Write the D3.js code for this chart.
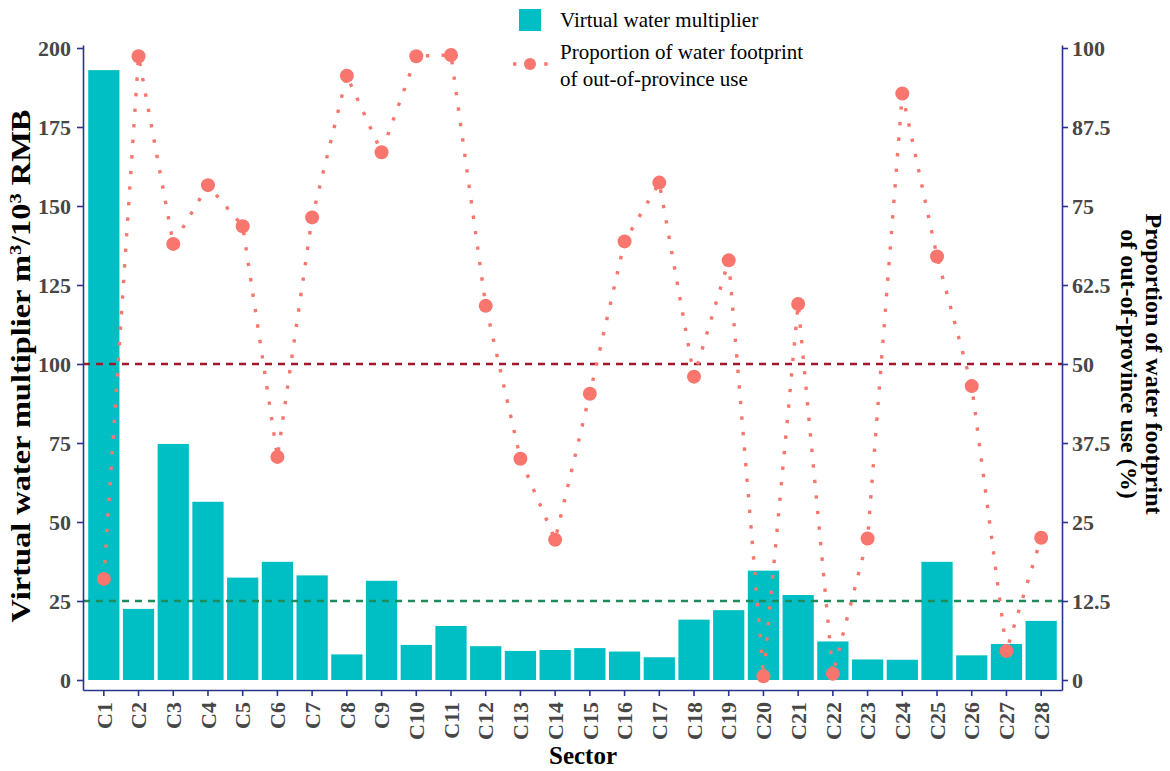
<!DOCTYPE html>
<html>
<head>
<meta charset="utf-8">
<script src="https://cdn.jsdelivr.net/npm/d3@7"></script>
<style>
  html, body { margin: 0; padding: 0; background: #ffffff; }
  svg { display: block; font-family: "Liberation Serif", "Times New Roman", serif; }
</style>
</head>
<body>
<svg id="chart" width="1170" height="771"></svg>
<script>
// Sectors C1..C28
const sectors = ["C1","C2","C3","C4","C5","C6","C7","C8","C9","C10","C11","C12","C13","C14",
                 "C15","C16","C17","C18","C19","C20","C21","C22","C23","C24","C25","C26","C27","C28"];

// Virtual water multiplier (m3 / 10^3 RMB)
const multiplier = [193, 22.5, 74.7, 56.4, 32.4, 37.4, 33.1, 8.1, 31.4, 11.1, 17.1, 10.7, 9.2, 9.5,
                    10.1, 9.0, 7.2, 19.1, 22.1, 34.6, 26.9, 12.2, 6.5, 6.4, 37.4, 7.8, 11.4, 18.7];

// Proportion of water footprint of out-of-province use (%)
const outShare = [16.0, 98.7, 69.0, 78.3, 71.8, 35.3, 73.2, 95.6, 83.5, 98.7, 98.9, 59.2, 35.0, 22.2,
                  45.3, 69.4, 78.7, 48.0, 66.4, 0.6, 59.5, 1.0, 22.4, 92.8, 67.0, 46.5, 4.6, 22.5];

// Axis ticks
const leftTicks = [0, 25, 50, 75, 100, 125, 150, 175, 200];
const rightTicks = [0, 12.5, 25, 37.5, 50, 62.5, 75, 87.5, 100];
const rightTickLabels = ["0", "12.5", "25", "37.5", "50", "62.5", "75", "87.5", "100"];

// Reference levels (left-axis units)
const refHigh = 100;
const refLow = 25;

const barColor = "#00BFC4";
const pointColor = "#F8766D";
const axisColor = "#2a3290";
const tickTextColor = "#474747";

const svg = d3.select("#chart");

const plotLeft = 83, plotRight = 1062, plotTop = 45, plotBottom = 690;

const x = d3.scaleBand()
  .domain(sectors)
  .range([plotLeft, plotRight])
  .paddingInner(0.1)
  .paddingOuter(0.15);

// Left scale: 0 -> 680, 200 -> 48, extended to the axis line ends
const yL = d3.scaleLinear().domain([-3.1646, 200.949]).range([plotBottom, plotTop]);
const yR = d3.scaleLinear().domain([-1.5823, 100.4747]).range([plotBottom, plotTop]);

// Bars
svg.append("g").selectAll("rect")
  .data(sectors)
  .join("rect")
  .attr("x", d => x(d))
  .attr("width", x.bandwidth())
  .attr("y", (d, i) => yL(multiplier[i]))
  .attr("height", (d, i) => yL(0) - yL(multiplier[i]))
  .attr("fill", barColor);

// Reference dashed lines
svg.append("line")
  .attr("x1", plotLeft).attr("x2", plotRight)
  .attr("y1", yL(refHigh)).attr("y2", yL(refHigh))
  .attr("stroke", "#a3162b").attr("stroke-width", 2.4)
  .attr("stroke-dasharray", "7,6");

svg.append("line")
  .attr("x1", plotLeft).attr("x2", plotRight)
  .attr("y1", yL(refLow)).attr("y2", yL(refLow))
  .attr("stroke", "#1f8a5c").attr("stroke-width", 2.4)
  .attr("stroke-dasharray", "7,6");

// Dotted proportion line
const cx = d => x(d) + x.bandwidth() / 2;
const line = d3.line()
  .x((d, i) => cx(sectors[i]))
  .y(d => yR(d));

svg.append("path")
  .datum(outShare)
  .attr("d", line)
  .attr("fill", "none")
  .attr("stroke", pointColor)
  .attr("stroke-width", 3.4)
  .attr("stroke-dasharray", "3.4,12.2");

svg.append("g").selectAll("circle")
  .data(outShare)
  .join("circle")
  .attr("cx", (d, i) => cx(sectors[i]))
  .attr("cy", d => yR(d))
  .attr("r", 7)
  .attr("fill", pointColor);

// Axes
function styleAxis(g) {
  g.select(".domain").attr("stroke", axisColor).attr("stroke-width", 1.6);
  g.selectAll(".tick line").attr("stroke", axisColor).attr("stroke-width", 1.6);
  g.selectAll(".tick text")
    .attr("fill", tickTextColor)
    .style("font-size", "22px")
    .style("font-weight", "bold")
    .style("font-family", "'Liberation Serif', serif");
}

svg.append("g")
  .attr("transform", `translate(${plotLeft},0)`)
  .call(d3.axisLeft(yL).tickValues(leftTicks).tickFormat(d3.format("d")).tickSize(6).tickSizeOuter(0).tickPadding(6))
  .call(styleAxis);

svg.append("g")
  .attr("transform", `translate(${plotRight},0)`)
  .call(d3.axisRight(yR).tickValues(rightTicks).tickFormat((d, i) => rightTickLabels[i]).tickSize(6).tickSizeOuter(0).tickPadding(4))
  .call(styleAxis);

const gBottom = svg.append("g")
  .attr("transform", `translate(0,${plotBottom})`)
  .call(d3.axisBottom(x).tickSize(6).tickSizeOuter(0))
  .call(styleAxis);

gBottom.selectAll(".tick text")
  .attr("transform", "rotate(-90)")
  .attr("text-anchor", "end")
  .attr("x", -12)
  .attr("y", 0)
  .attr("dy", "0.35em");

// Axis titles (left title set in a tall, narrow face)
svg.append("text")
  .attr("transform", `translate(30,366) rotate(-90) scale(1.2,1)`)
  .attr("text-anchor", "middle")
  .style("font-size", "27px")
  .style("font-weight", "bold")
  .attr("fill", "#000")
  .html('Virtual water multiplier m<tspan baseline-shift="super" font-size="17px">3</tspan>/10<tspan baseline-shift="super" font-size="17px">3</tspan> RMB');

const rightTitle = svg.append("text")
  .attr("transform", `translate(1121,364) rotate(90)`)
  .attr("text-anchor", "middle")
  .style("font-size", "24px")
  .style("font-weight", "bold")
  .attr("fill", "#000");
rightTitle.append("tspan").attr("x", 0).attr("y", -25).text("Proportion of water footprint");
rightTitle.append("tspan").attr("x", 0).attr("y", 0).text("of out-of-province use (%)");

svg.append("text")
  .attr("x", 583).attr("y", 764)
  .attr("text-anchor", "middle")
  .style("font-size", "25px")
  .style("font-weight", "bold")
  .attr("fill", "#000")
  .text("Sector");

// Legend
const legend = svg.append("g");
legend.append("rect")
  .attr("x", 519).attr("y", 9).attr("width", 22).attr("height", 22)
  .attr("fill", barColor);
legend.append("text")
  .attr("x", 560).attr("y", 27)
  .style("font-size", "21px")
  .attr("fill", "#000")
  .text("Virtual water multiplier");

legend.append("line")
  .attr("x1", 513).attr("x2", 549)
  .attr("y1", 64).attr("y2", 64)
  .attr("stroke", pointColor).attr("stroke-width", 3.4)
  .attr("stroke-dasharray", "3.4,12.2");
legend.append("circle")
  .attr("cx", 530).attr("cy", 64).attr("r", 6)
  .attr("fill", pointColor);
const lt = legend.append("text")
  .style("font-size", "21px")
  .attr("fill", "#000");
lt.append("tspan").attr("x", 560).attr("y", 59).text("Proportion of water footprint");
lt.append("tspan").attr("x", 560).attr("y", 86).text("of out-of-province use");
</script>
</body>
</html>
